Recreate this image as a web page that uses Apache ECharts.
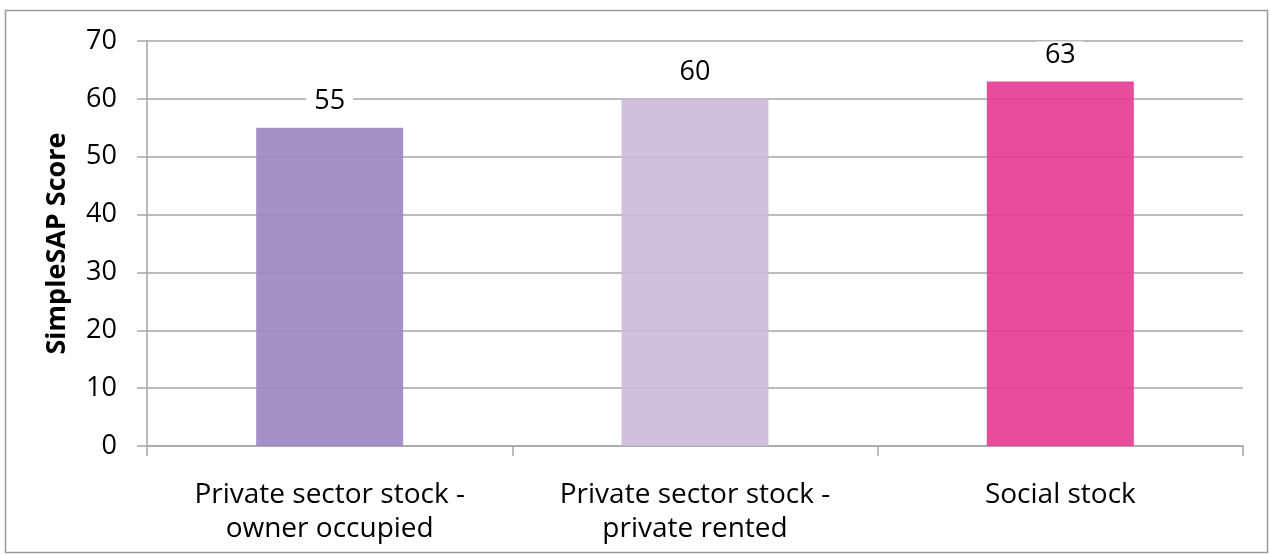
<!DOCTYPE html>
<html>
<head>
<meta charset="utf-8">
<script src="https://cdn.jsdelivr.net/npm/echarts@6/dist/echarts.min.js"></script>
<style>
  html, body { margin: 0; padding: 0; background: #fff; }
  #chart { width: 1270px; height: 554px; }
</style>
</head>
<body>
<div id="chart"></div>
<script>
// Housing stock categories and their mean SimpleSAP scores
const categories = ['Private sector stock -\nowner occupied', 'Private sector stock -\nprivate rented', 'Social stock'];
const scores = [55, 60, 63];
const barColors = ['rgba(155,133,193,0.9)', 'rgba(202,186,218,0.9)', 'rgba(228,58,145,0.9)'];
const yTicks = { min: 0, max: 70, interval: 10 };

const font = '"Open Sans", sans-serif';
const chart = echarts.init(document.getElementById('chart'));

chart.setOption({
  animation: false,
  backgroundColor: '#fff',
  graphic: [{
    type: 'rect',
    shape: { x: 5.5, y: 10.5, width: 1262, height: 542 },
    style: { fill: 'none', stroke: '#9a9a9a', lineWidth: 1.5 },
    silent: true
  }],
  grid: { left: 147, right: 27, top: 41, bottom: 108 },
  xAxis: {
    type: 'category',
    data: categories,
    axisLine: { lineStyle: { color: '#a6a6a6', width: 1.5 } },
    axisTick: { show: true, length: 10, alignWithLabel: false, lineStyle: { color: '#a6a6a6', width: 1.5 } },
    axisLabel: { color: '#000', fontFamily: font, fontSize: 28, lineHeight: 34, margin: 32 }
  },
  yAxis: {
    type: 'value',
    min: yTicks.min, max: yTicks.max, interval: yTicks.interval,
    name: 'SimpleSAP Score',
    nameLocation: 'middle',
    nameGap: 76,
    nameTextStyle: { color: '#000', fontFamily: font, fontSize: 27, fontWeight: 'bold' },
    axisLine: { show: true, lineStyle: { color: '#a6a6a6', width: 1.5 } },
    axisTick: { show: true, length: 10, lineStyle: { color: '#a6a6a6', width: 1.5 } },
    axisLabel: { color: '#000', fontFamily: font, fontSize: 27, margin: 30 },
    splitLine: { lineStyle: { color: '#a6a6a6', width: 1.5 } }
  },
  series: [{
    type: 'bar',
    barWidth: 147,
    data: scores.map((v, i) => ({ value: v, itemStyle: { color: barColors[i] } })),
    label: {
      show: true,
      position: 'top',
      distance: 13,
      color: '#000',
      fontFamily: font,
      fontSize: 27,
      backgroundColor: '#fff',
      padding: [0, 8]
    }
  }]
});
</script>
</body>
</html>
